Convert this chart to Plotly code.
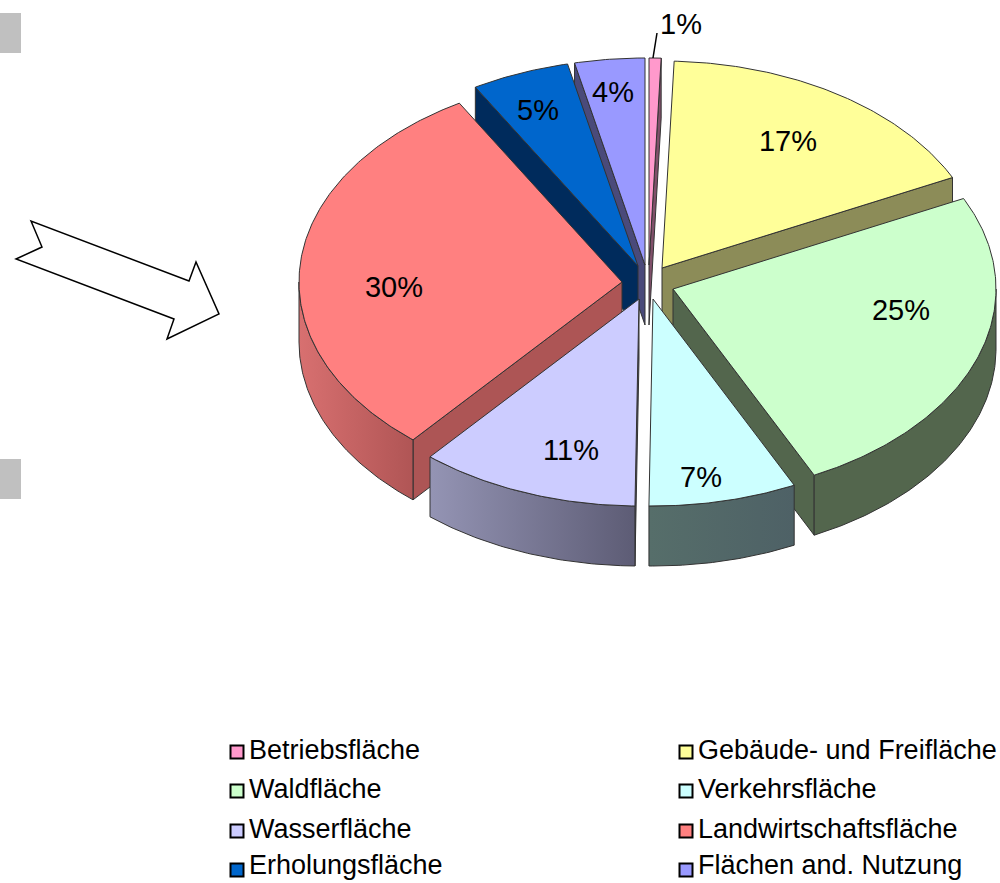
import math
import numpy as np
import plotly.graph_objects as go

# ---- data ----
categories = ["Betriebsfläche", "Gebäude- und Freifläche", "Waldfläche", "Verkehrsfläche",
              "Wasserfläche", "Landwirtschaftsfläche", "Erholungsfläche", "Flächen and. Nutzung"]
values = [0.6, 17.2, 25.0, 7.4, 11.0, 30.4, 4.9, 3.5]

# ---- style ----
top_colors = ["#ff99cc", "#ffff99", "#ccffcc", "#ccffff", "#ccccff", "#ff8080", "#0066cc", "#9999ff"]
wall_colors = ["#80506a", "#8c8c58", "#53664d", "#4f6468", "#5d5c75", "#ad5555", "#002b5c", "#4a4a7a"]
rim_left = ["#a06a88", "#b0b070", "#53664d", "#566e6a", "#9494b4", "#d87070", "#00407c", "#6a6ab0"]
rim_right = ["#a06a88", "#70704a", "#53664d", "#4e6166", "#5d5c75", "#b05555", "#00407c", "#6a6ab0"]
apexes = [(649, 265), (662, 268), (673, 289), (653, 299), (639, 299), (622, 282), (638, 266), (645, 265)]
draw_order = [0, 7, 6, 1, 5, 2, 4, 3]
RX, RY, DEPTH = 323, 207, 60
EDGE = "#333333"
FONT = "Liberation Sans, Arial, sans-serif"

label_xy = [(681, 27), (788, 144), (901, 313), (701, 480), (571, 453), (394, 290), (538, 113), (613, 95)]
key_xy = [(237, 752), (686, 752), (237, 791), (686, 791), (237, 831), (686, 831), (237, 870), (686, 870)]
key_text_y = [752, 752, 791, 791, 831, 831, 867, 867]
KEY_TEXT_DX = 12

fig = go.Figure()


def poly(xs, ys, fill=None, gradient=None, name=""):
    kw = dict(fillgradient=gradient) if gradient else dict(fillcolor=fill)
    fig.add_trace(go.Scatter(x=list(xs) + [xs[0]], y=list(ys) + [ys[0]], mode="lines", fill="toself",
                             line=dict(color=EDGE, width=1), hoverinfo="skip", showlegend=False,
                             name=name, **kw))


edges = np.cumsum([0] + values) / sum(values) * 2 * math.pi

for i in draw_order:
    a0, a1 = edges[i], edges[i + 1]
    cx, cy = apexes[i]
    ts = np.linspace(a0, a1, max(3, int((a1 - a0) * 90)))
    ex, ey = cx + RX * np.sin(ts), cy - RY * np.cos(ts)
    # radial cut faces: only those turned towards the viewer
    visible = []
    if math.sin(a0) < 0:
        visible.append(a0)
    if math.sin(a1) > 0:
        visible.append(a1)
    for a in visible:
        px, py = cx + RX * math.sin(a), cy - RY * math.cos(a)
        poly([cx, px, px, cx], [cy, py, py + DEPTH, cy + DEPTH], fill=wall_colors[i], name=categories[i] + " wall")
    # visible (front) part of the outer rim
    lo, hi = max(a0, math.pi / 2), min(a1, 3 * math.pi / 2)
    if hi > lo:
        tr = np.linspace(lo, hi, max(3, int((hi - lo) * 90)))
        rx_, ry_ = cx + RX * np.sin(tr), cy - RY * np.cos(tr)
        poly(list(rx_) + list(rx_[::-1]), list(ry_) + list(ry_[::-1] + DEPTH),
             gradient=dict(type="horizontal", colorscale=[[0, rim_left[i]], [1, rim_right[i]]]),
             name=categories[i] + " rim")
    # top face
    poly([cx] + list(ex), [cy] + list(ey), fill=top_colors[i], name=categories[i])

# value labels
fig.add_trace(go.Scatter(x=[p[0] for p in label_xy], y=[p[1] for p in label_xy], mode="text",
                         text=[f"{round(v)}%" for v in values], textposition="middle center",
                         textfont=dict(family=FONT, size=29, color="black"),
                         hoverinfo="skip", showlegend=False, cliponaxis=False))

# legend keys and their texts
for i, name in enumerate(categories):
    fig.add_trace(go.Scatter(x=[key_xy[i][0]], y=[key_xy[i][1]], mode="markers", name=name,
                             showlegend=False, cliponaxis=False,
                             marker=dict(symbol="square", size=13, color=top_colors[i],
                                         line=dict(color="black", width=2))))
    fig.add_trace(go.Scatter(x=[key_xy[i][0] + KEY_TEXT_DX], y=[key_text_y[i]], mode="text",
                             text=[name], textposition="middle right", showlegend=False, cliponaxis=False,
                             hoverinfo="skip", textfont=dict(family=FONT, size=27, color="black")))

shapes = [
    dict(type="rect", x0=0, x1=21, y0=13, y1=53, fillcolor="#c0c0c0", line=dict(width=0), layer="below"),
    dict(type="rect", x0=0, x1=21, y0=459, y1=499, fillcolor="#c0c0c0", line=dict(width=0), layer="below"),
    dict(type="path", path="M31,221 L42,247 L16,259 L174,319 L167,339 L219,314 L196,262 L189,281 Z",
         fillcolor="white", line=dict(color="black", width=1.5)),
    dict(type="line", x0=657, y0=33, x1=653, y1=58, line=dict(color="black", width=1.5)),
]

fig.update_layout(
    width=1000, height=883, margin=dict(l=0, r=0, t=0, b=0), paper_bgcolor="white", plot_bgcolor="white",
    xaxis=dict(range=[0, 1000], visible=False, fixedrange=True),
    yaxis=dict(range=[883, 0], visible=False, fixedrange=True),
    shapes=shapes, showlegend=False,
)
fig.write_html("out.html", config={"displayModeBar": False},
               post_script="document.body.style.margin='0';")
